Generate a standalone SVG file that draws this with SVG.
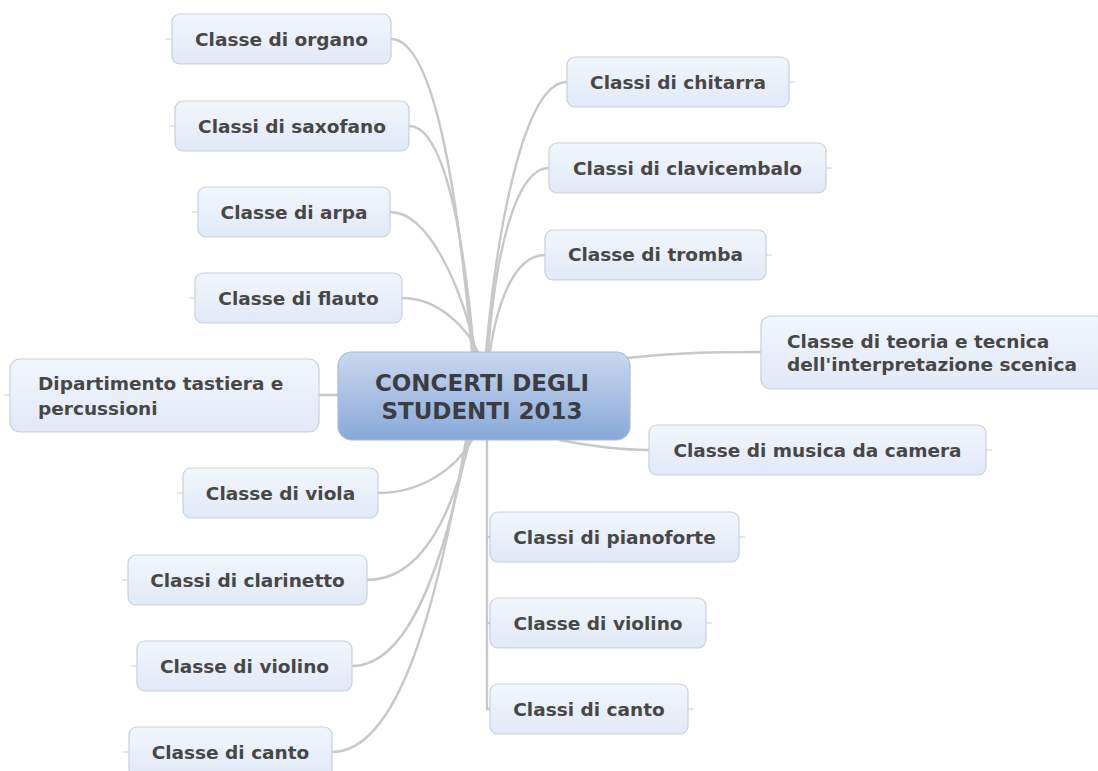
<svg xmlns="http://www.w3.org/2000/svg" width="1098" height="771" viewBox="0 0 1098 771">
<defs>
<linearGradient id="gNode" x1="0" y1="0" x2="0" y2="1"><stop offset="0" stop-color="#f2f6fc"/><stop offset="1" stop-color="#e1e9f7"/></linearGradient>
<linearGradient id="gCenter" x1="0" y1="0" x2="0" y2="1"><stop offset="0" stop-color="#c9d8ef"/><stop offset="1" stop-color="#88a8d8"/></linearGradient>
<style>
.n{fill:url(#gNode);stroke:#c9d0dc;stroke-width:1.2}
.c{fill:url(#gCenter);stroke:#a9bcd8;stroke-width:1.2}
.t{font-family:"DejaVu Sans",Verdana,sans-serif;font-weight:bold;font-size:18.5px;fill:#474747}
.tc{font-family:"DejaVu Sans",Verdana,sans-serif;font-weight:bold;font-size:23px;fill:#3a3d44}
.l{fill:none;stroke:#c8c8c8;stroke-width:2.4;stroke-linecap:round}
.s{fill:none;stroke:#cfcfcf;stroke-width:1}
</style>
</defs>
<rect width="1098" height="771" fill="#ffffff"/>
<g id="connectors">
<path class="l" d="M391,39 C440,39 462,240 472,352"/>
<path class="l" d="M409,126 C448,126 466,260 474,352"/>
<path class="l" d="M390,212 C430,212 462,290 476,352"/>
<path class="l" d="M402,298 C440,298 468,330 478,352"/>
<path class="l" d="M567,82 C522,82 496,240 486,352"/>
<path class="l" d="M549,168 C512,168 494,270 488,352"/>
<path class="l" d="M545,255 C512,255 496,310 490,352"/>
<path class="l" d="M626,358 C680,352 720,352 761,352"/>
<path class="l" d="M560,440 C600,448 625,450 649,450"/>
<path class="l" d="M319,395 L338,395"/>
<path class="l" d="M378,493 C420,493 455,470 472,440"/>
<path class="l" d="M367,580 C420,580 450,520 470,440"/>
<path class="l" d="M352,666 C410,666 445,560 468,440"/>
<path class="l" d="M332,752 C400,752 438,600 466,440"/>
<path class="l" d="M487,440 L487,709"/>
<path class="l" d="M487,537 L490,537"/>
<path class="l" d="M487,623 L490,623"/>
<path class="l" d="M487,709 L490,709"/>
<path class="s" d="M166,39 H172 M169,126 H175 M192,212 H198 M189,298 H195 M4,395 H10 M177,493 H183 M122,580 H128 M131,666 H137 M123,752 H129"/>
<path class="s" d="M789,82 H795 M826,168 H832 M766,255 H772 M986,450 H992 M739,537 H745 M706,623 H712 M688,709 H694"/>
</g>
<g id="center"><rect class="c" x="338" y="352" width="292" height="88" rx="14"/><text class="tc" x="482" y="391" text-anchor="middle">CONCERTI DEGLI</text><text class="tc" x="482" y="419" text-anchor="middle">STUDENTI 2013</text></g>
<g id="n-organo"><rect class="n" x="172" y="14" width="219" height="50" rx="8"/><text class="t" x="281.5" y="45.5" text-anchor="middle">Classe di organo</text></g>
<g id="n-saxofano"><rect class="n" x="175" y="101" width="234" height="50" rx="8"/><text class="t" x="292" y="132.5" text-anchor="middle">Classi di saxofano</text></g>
<g id="n-arpa"><rect class="n" x="198" y="187" width="192" height="50" rx="8"/><text class="t" x="294" y="218.5" text-anchor="middle">Classe di arpa</text></g>
<g id="n-flauto"><rect class="n" x="195" y="273" width="207" height="50" rx="8"/><text class="t" x="298.5" y="304.5" text-anchor="middle">Classe di flauto</text></g>
<g id="n-dipartimento"><rect class="n" x="10" y="359" width="309" height="73" rx="10"/><text class="t" x="38" y="390">Dipartimento tastiera e</text><text class="t" x="38" y="415">percussioni</text></g>
<g id="n-viola"><rect class="n" x="183" y="468" width="195" height="50" rx="8"/><text class="t" x="280.5" y="499.5" text-anchor="middle">Classe di viola</text></g>
<g id="n-clarinetto"><rect class="n" x="128" y="555" width="239" height="50" rx="8"/><text class="t" x="247.5" y="586.5" text-anchor="middle">Classi di clarinetto</text></g>
<g id="n-violino-l"><rect class="n" x="137" y="641" width="215" height="50" rx="8"/><text class="t" x="244.5" y="672.5" text-anchor="middle">Classe di violino</text></g>
<g id="n-canto-l"><rect class="n" x="129" y="727" width="203" height="50" rx="8"/><text class="t" x="230.5" y="758.5" text-anchor="middle">Classe di canto</text></g>
<g id="n-chitarra"><rect class="n" x="567" y="57" width="222" height="50" rx="8"/><text class="t" x="678" y="88.5" text-anchor="middle">Classi di chitarra</text></g>
<g id="n-clavicembalo"><rect class="n" x="549" y="143" width="277" height="50" rx="8"/><text class="t" x="687.5" y="174.5" text-anchor="middle">Classi di clavicembalo</text></g>
<g id="n-tromba"><rect class="n" x="545" y="230" width="221" height="50" rx="8"/><text class="t" x="655.5" y="260.5" text-anchor="middle">Classe di tromba</text></g>
<g id="n-teoria"><rect class="n" x="761" y="316" width="345" height="73" rx="10"/><text class="t" x="787" y="348">Classe di teoria e tecnica</text><text class="t" x="787" y="371">dell'interpretazione scenica</text></g>
<g id="n-camera"><rect class="n" x="649" y="425" width="337" height="50" rx="8"/><text class="t" x="817.5" y="456.5" text-anchor="middle">Classe di musica da camera</text></g>
<g id="n-pianoforte"><rect class="n" x="490" y="512" width="249" height="50" rx="8"/><text class="t" x="614.5" y="543.5" text-anchor="middle">Classi di pianoforte</text></g>
<g id="n-violino-r"><rect class="n" x="490" y="598" width="216" height="50" rx="8"/><text class="t" x="598" y="629.5" text-anchor="middle">Classe di violino</text></g>
<g id="n-canto-r"><rect class="n" x="490" y="684" width="198" height="50" rx="8"/><text class="t" x="589" y="715.5" text-anchor="middle">Classi di canto</text></g>
</svg>
